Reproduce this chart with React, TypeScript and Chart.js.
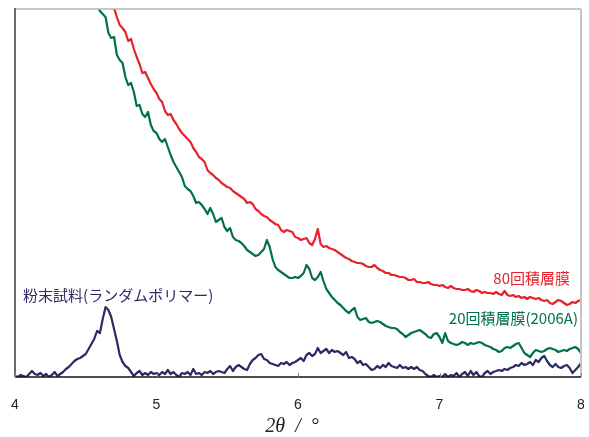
import React, { useEffect, useRef } from "react";
import { Chart, registerables } from "chart.js";

Chart.register(...registerables);

// 2θ grid step (degrees)
const STEP = 0.02;
const X_TICKS = [4, 5, 6, 7, 8];

// 80回積層膜 (starts at 4.68)
const RED_START = 4.68;
const RED_VALUES = [
  378, 369, 360, 352, 349, 345,
  336, 338, 328, 320, 313, 304, 305, 299, 293, 288,
  284, 278, 275, 266, 262, 263, 257, 253, 248, 244,
  241, 238, 235, 229, 225, 220, 218, 215, 207, 204,
  202, 199, 197, 194, 192, 190, 189, 186, 184, 182,
  180, 178, 174, 175, 173, 168, 166, 163, 161, 160,
  157, 155, 153, 152, 147, 145, 147, 146, 145, 140,
  139, 137, 138, 139, 134, 132, 138, 148, 133, 130,
  131, 129, 128, 127, 125, 123, 121, 119, 118, 116,
  115, 114, 114, 113, 111, 110, 110, 112, 109, 107,
  106, 104, 104, 102, 102, 101, 100, 100, 99, 97,
  97, 98, 95, 95, 94, 94, 95, 93, 92, 92,
  91, 92, 90, 89, 91, 89, 88, 88, 87, 87,
  88, 86, 85, 87, 86, 84, 85, 84, 84, 83,
  85, 83, 82, 86, 82, 81, 82, 80, 81, 79,
  80, 78, 80, 79, 78, 79, 77, 76, 77, 74,
  73, 75, 77, 76, 74, 72, 73, 75, 74, 76,
  77,
];

// 20回積層膜(2006A) (starts at 4.58)
const GREEN_START = 4.58;
const GREEN_VALUES = [
  372,
  366, 363, 360, 344, 339, 340, 322, 317, 314, 300,
  292, 294, 285, 271, 272, 263, 260, 265, 252, 246,
  244, 238, 235, 238, 230, 222, 215, 210, 205, 200,
  191, 188, 186, 181, 174, 175, 172, 168, 163, 169,
  163, 155, 157, 159, 150, 146, 149, 140, 137, 136,
  134, 131, 127, 125, 123, 121, 122, 125, 128, 137,
  130, 118, 110, 107, 105, 103, 101, 99, 99, 100,
  99, 101, 104, 112, 108, 99, 97, 100, 105, 96,
  88, 84, 80, 77, 74, 72, 69, 66, 64, 67,
  69, 60, 57, 58, 59, 55, 54, 55, 56, 55,
  53, 51, 50, 49, 49, 48, 45, 43, 40, 42,
  44, 45, 46, 47, 45, 43, 40, 39, 43, 44,
  40, 34, 44, 36, 34, 33, 32, 33, 35, 34,
  32, 34, 33, 34, 35, 34, 32, 31, 30, 28,
  27, 25, 26, 29, 30, 29, 31, 33, 34, 29,
  24, 22, 20, 24, 27, 26, 25, 26, 28, 29,
  28, 27, 25, 26, 27, 26, 28, 29, 30, 28,
  24,
];

// 粉末試料(ランダムポリマー) (starts at 4.00)
const NAVY_START = 4.0;
const NAVY_VALUES = [
  1, 0, 2, 1, 0, 3, 6, 3, 2, 4,
  1, 3, 0, 2, 5, 1, 3, 5, 8, 10,
  13, 16, 18, 19, 21, 23, 28, 33, 38, 46,
  44, 58, 70, 67, 60, 48, 36, 22, 15, 11,
  9, 5, 1, 4, 6, 2, 4, 2, 5, 3,
  4, 2, 5, 3, 7, 3, 5, 2, 0, 4,
  3, 5, 2, 8, 3, 4, 2, 5, 4, 6,
  3, 5, 6, 5, 4, 8, 11, 6, 10, 12,
  10, 8, 7, 13, 17, 19, 22, 23, 18, 17,
  14, 13, 12, 11, 14, 13, 15, 12, 14, 15,
  17, 19, 16, 22, 24, 21, 23, 29, 24, 26,
  28, 24, 27, 25, 26, 24, 22, 25, 19, 20,
  18, 14, 16, 12, 13, 10, 7, 8, 11, 9,
  12, 10, 14, 11, 10, 9, 12, 9, 10, 8,
  10, 8, 10, 7, 6, 3, 1, 0, 2, 0,
  1, 0, 3, 0, 2, 1, 4, 0, 3, 5,
  1, 6, 2, 5, 1, 0, 4, 6, 3, 5,
  6, 7, 6, 8, 7, 9, 10, 12, 11, 14,
  12, 13, 15, 12, 17, 15, 19, 21, 16, 12,
  10, 13, 10, 9, 11, 12, 9, 4, 7, 10,
  14,
];

const RED = "#e8222c";
const GREEN = "#00714b";
const NAVY = "#2c2b63";

const LABEL_RED = "80回積層膜";
const LABEL_GREEN = "20回積層膜(2006A)";
const LABEL_NAVY = "粉末試料(ランダムポリマー)";
const X_TITLE = "2θ  /  °";

function toPoints(start: number, values: number[]) {
  return values.map((v, i) => ({ x: +(start + i * STEP).toFixed(2), y: v }));
}

const framePlugin = {
  id: "frame",
  afterDatasetsDraw(chart: any) {
    const { ctx, chartArea: a, scales } = chart;
    const xs = scales.x;
    const ys = scales.y;
    ctx.save();
    // top
    ctx.strokeStyle = "#b4b4b4";
    ctx.lineWidth = 1.5;
    ctx.beginPath();
    ctx.moveTo(a.left, a.top);
    ctx.lineTo(a.right, a.top);
    ctx.stroke();
    // right
    ctx.strokeStyle = "#c4c4c4";
    ctx.lineWidth = 2;
    ctx.beginPath();
    ctx.moveTo(a.right, a.top);
    ctx.lineTo(a.right, a.bottom);
    ctx.stroke();
    // left
    ctx.strokeStyle = "#6a6a6a";
    ctx.lineWidth = 2;
    ctx.beginPath();
    ctx.moveTo(a.left, a.top - 1);
    ctx.lineTo(a.left, a.bottom);
    ctx.stroke();
    // bottom
    ctx.strokeStyle = "#111";
    ctx.lineWidth = 1.6;
    ctx.beginPath();
    ctx.moveTo(a.left, a.bottom);
    ctx.lineTo(a.right, a.bottom);
    ctx.stroke();
    // ticks (inward)
    ctx.strokeStyle = "#888";
    ctx.lineWidth = 1;
    X_TICKS.forEach((t) => {
      const px = Math.round(xs.getPixelForValue(t)) + 0.5;
      ctx.beginPath();
      ctx.moveTo(px, a.bottom);
      ctx.lineTo(px, a.bottom - 4);
      ctx.stroke();
    });
    // tick labels
    ctx.fillStyle = "#222";
    ctx.font = '14px "Liberation Sans", Arial, sans-serif';
    ctx.textAlign = "center";
    ctx.textBaseline = "middle";
    X_TICKS.forEach((t) => {
      ctx.fillText(String(t), xs.getPixelForValue(t), a.bottom + 28);
    });
    // axis title
    ctx.font = 'italic 20px "Liberation Serif", serif';
    ctx.fillText(X_TITLE, (a.left + a.right) / 2 - 6, a.bottom + 50);
    // series labels
    ctx.font = '15px "Noto Sans CJK JP", sans-serif';
    ctx.textBaseline = "middle";
    ctx.fillStyle = RED;
    ctx.textAlign = "right";
    ctx.fillText(LABEL_RED, xs.getPixelForValue(7.922), ys.getPixelForValue(99));
    ctx.fillStyle = GREEN;
    ctx.fillText(LABEL_GREEN, xs.getPixelForValue(7.979), ys.getPixelForValue(59));
    ctx.fillStyle = NAVY;
    ctx.textAlign = "left";
    ctx.fillText(LABEL_NAVY, xs.getPixelForValue(4.057), ys.getPixelForValue(82));
    ctx.restore();
  },
};

export default function App() {
  const ref = useRef<HTMLCanvasElement | null>(null);
  useEffect(() => {
    if (!ref.current) return;
    const lineDs = (data: any[], color: string) => ({
      data,
      borderColor: color,
      backgroundColor: color,
      borderWidth: 2.2,
      pointRadius: 0,
      fill: false,
      tension: 0,
      borderJoinStyle: "round" as const,
    });
    const chart = new Chart(ref.current, {
      type: "line",
      data: {
        datasets: [
          lineDs(toPoints(NAVY_START, NAVY_VALUES), NAVY),
          lineDs(toPoints(GREEN_START, GREEN_VALUES), GREEN),
          lineDs(toPoints(RED_START, RED_VALUES), RED),
        ],
      },
      options: {
        responsive: false,
        animation: false,
        layout: { padding: { left: 15, right: 8, top: 9, bottom: 60 } },
        plugins: { legend: { display: false }, tooltip: { enabled: false } },
        scales: {
          x: { type: "linear", min: 4, max: 8, display: false },
          y: { type: "linear", min: 0, max: 368, display: false },
        },
      },
      plugins: [framePlugin],
    });
    return () => chart.destroy();
  }, []);
  return (
    <div style={{ position: "fixed", left: 0, top: 0, width: 589, height: 437, background: "#fff" }}>
      <canvas ref={ref} width={589} height={437} style={{ width: 589, height: 437 }} />
    </div>
  );
}
